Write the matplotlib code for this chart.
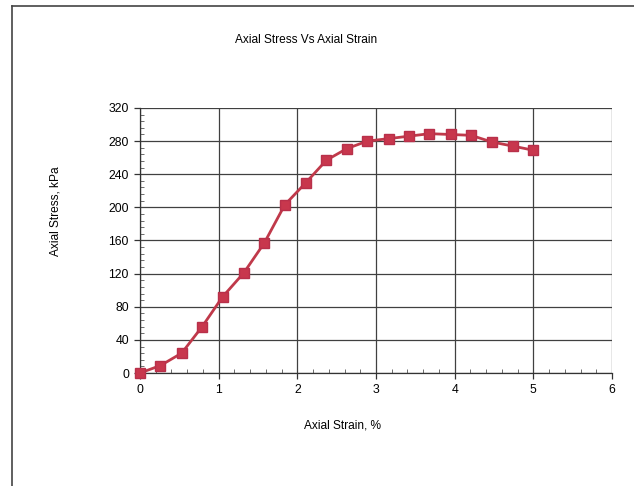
import matplotlib
matplotlib.use("Agg")
import matplotlib.pyplot as plt
from matplotlib.ticker import MultipleLocator
from matplotlib.lines import Line2D

strain = [0.0, 0.26, 0.53, 0.79, 1.05, 1.32, 1.58, 1.84, 2.11, 2.37,
          2.63, 2.89, 3.16, 3.42, 3.68, 3.95, 4.21, 4.47, 4.74, 5.0]
stress = [0, 9, 24, 56, 92, 121, 157, 203, 230, 257,
          271, 280, 283, 286, 289, 288, 287, 279, 274, 269]

title = "Axial Stress Vs Axial Strain"
xlabel = "Axial Strain, %"
ylabel = "Axial Stress, kPa"

plt.rcParams['font.family'] = ['Liberation Sans', 'DejaVu Sans']

fig = plt.figure(figsize=(6.34, 4.86), dpi=100)
ax = fig.add_axes([140/634, 1-373/486, 472/634, 265/486])

ax.plot(strain, stress, color='#C0394A', lw=2, marker='s', ms=7.5,
        mfc='#C8374D', mec='#B8304A', zorder=3, clip_on=False)

ax.set_xlim(0, 6)
ax.set_ylim(0, 320)
ax.xaxis.set_major_locator(MultipleLocator(1))
ax.xaxis.set_minor_locator(MultipleLocator(0.2))
ax.yaxis.set_major_locator(MultipleLocator(40))
ax.yaxis.set_minor_locator(MultipleLocator(8))
ax.grid(True, which='major', color='#404040', lw=0.9)
ax.set_axisbelow(True)
for s in ['top', 'right']:
    ax.spines[s].set_visible(False)
for s in ['left', 'bottom']:
    ax.spines[s].set_color('#333333')
    ax.spines[s].set_linewidth(0.9)
ax.tick_params(which='major', direction='out', length=4, width=0.9,
               color='#333333', labelsize=8.8, pad=4)
ax.tick_params(which='minor', direction='in', length=3, width=0.6,
               color='#555555')

fig.text(306/634, 1-40/486, title, ha='center', va='center', fontsize=8.6)
fig.text(343/634, 1-425/486, xlabel, ha='center', va='center', fontsize=8.6)
fig.text(55/634, 1-211/486, ylabel, ha='center', va='center', fontsize=8.6,
         rotation=90)

# outer chart frame (top and left edges visible)
fig.add_artist(Line2D([11.5/634, 1.0], [1-6/486, 1-6/486], color='#444444', lw=1.2))
fig.add_artist(Line2D([11.5/634, 11.5/634], [0, 1-6/486], color='#444444', lw=1.2))

fig.savefig("out.png", dpi=100)
